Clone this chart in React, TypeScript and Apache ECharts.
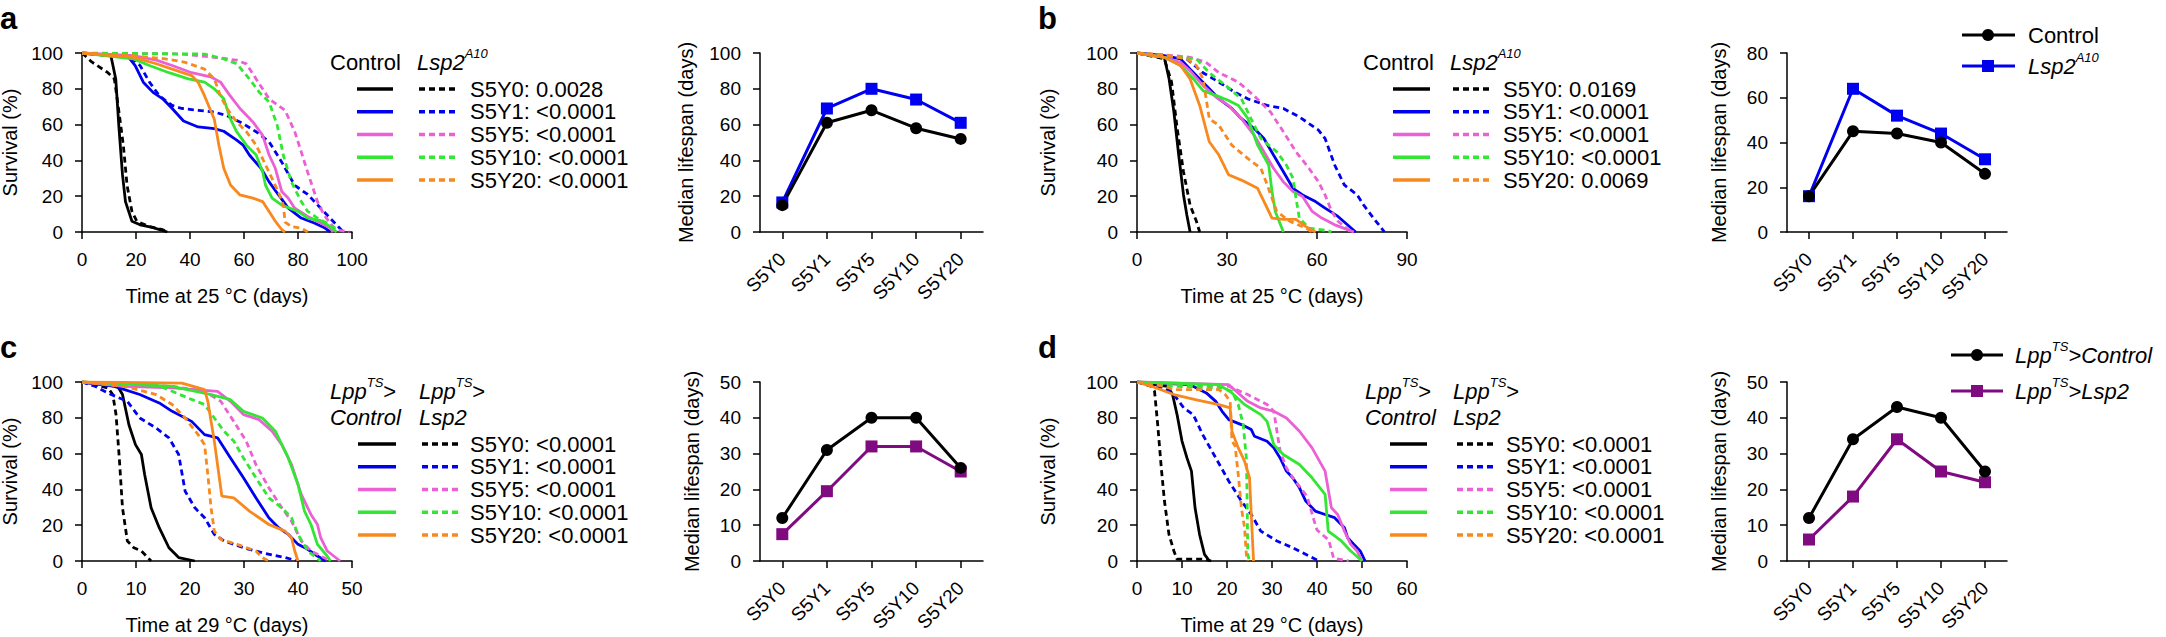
import React, { useEffect, useRef } from "react";
import * as echarts from "echarts";

// ---------- categories / tick labels ----------
const categories = ["S5Y0", "S5Y1", "S5Y5", "S5Y10", "S5Y20"];

// ---------- median lifespan ----------
const aMedCtrl = [15, 61, 68, 58, 52];
const aMedLsp = [16.5, 69, 80, 74, 61];
const bMedCtrl = [16, 45, 44, 40, 26];
const bMedLsp = [16, 64, 52, 44, 32.5];
const cMedCtrl = [12, 31, 40, 40, 26];
const cMedLsp = [7.5, 19.5, 32, 32, 25];
const dMedCtrl = [12, 34, 43, 40, 25];
const dMedLsp = [6, 18, 34, 25, 22];

// ---------- survival curves [day, %] ----------
// panel a
const aCtrlY0 = [[0,100],[10.7,98.5],[12.5,85.5],[13.7,58],[15,32],[16.1,17],[18.5,6],[21.5,4],[26,2.6],[31.6,0]];
const aLspY0 = [[0,100],[3.6,95],[9.6,89],[12,85.5],[13.7,67],[15.3,48.5],[16.7,26],[18.5,11.5],[20.3,6],[25,3],[29.9,1.3],[31.6,0]];
const aCtrlY1 = [[0,100],[17.3,97.6],[19.7,93],[22.7,83.7],[26.3,78],[29.9,74.4],[33.4,69],[37.6,62],[43,58.7],[49,57.8],[52.5,56.3],[57.3,51.3],[59.7,48.5],[62,43],[66.3,35.6],[69.3,28],[72.8,20.7],[76.4,13.3],[81.2,7.8],[86,5],[90,2.2],[92,0]];
const aLspY1 = [[0,100],[17.3,98.5],[21.5,93],[25,83.7],[28.7,76],[33.4,70.7],[37,69],[43,68],[49,67],[53.7,65],[59.7,60.5],[64.5,56],[69.3,50.4],[74,39],[78.8,26],[83.6,21],[88.4,13.3],[93,6],[96,1.3],[96.7,0]];
const aCtrlY5 = [[0,100],[19,98.5],[27.5,96],[33.4,93],[40.6,89],[48,86.5],[51.3,83.7],[54.9,76],[58.5,69],[63.3,61.5],[66.9,54],[69.3,43],[71.6,35.6],[74,22.6],[76.4,18.9],[78.8,13.3],[83.6,8.7],[88.4,5],[92,2.2],[93,0]];
const aLspY5 = [[0,100],[37,99.4],[49,97.6],[57.3,96],[60.9,93.9],[64.5,85.5],[69.3,74.4],[75.2,68],[78.8,56],[81.2,44.8],[83.6,33.3],[87.2,17],[89.6,9.6],[93,3],[95,1],[99,0]];
const aCtrlY10 = [[0,100],[19,96.7],[25,93],[32.2,89],[39.4,85.5],[45.4,83.7],[49,80],[52.5,74.4],[55,63],[57.3,56],[60.9,48.5],[64.5,43],[66.9,33.7],[68,26],[70.4,18.9],[74,15],[80,11.5],[83.6,7.8],[88.4,6.3],[92,3],[94.3,0]];
const aLspY10 = [[0,100],[45.4,99.4],[52.5,96.7],[57.3,94],[62,85.5],[65.7,78],[69.3,72.6],[72.3,59.6],[74.6,42.6],[77.6,27.8],[81.2,17],[83.6,11.5],[87.2,7.8],[93,3],[94.3,0]];
const aCtrlY20 = [[0,100],[19,97.6],[27.5,94],[33.4,91],[40.6,87.4],[43,83.7],[45.4,76],[49,63],[50.7,48.5],[52.5,35.6],[55,26.3],[58.5,20.7],[63.3,18.9],[66.9,17],[69.3,11.5],[71.6,6],[74,1.3],[75.2,0]];
const aLspY20 = [[0,100],[19,98.5],[31,96.7],[38.2,94.8],[45.4,91],[49,85.5],[51.3,76],[53.7,69],[57.3,61.5],[60.9,56],[64.5,48.5],[69.3,33.3],[72.8,22.2],[74.6,14.8],[75.2,5.5],[77.6,3],[81.2,2.2],[83.6,0]];
// panel b
const bCtrlY0 = [[0,100],[9.1,97.6],[10.7,85.5],[12.3,67],[13.9,43],[15.5,20.7],[16.6,9.6],[17.7,0]];
const bLspY0 = [[0,100],[9.1,96.7],[11.5,84],[13.4,57.8],[15.5,33.7],[17.7,15],[19.8,6],[20.9,0]];
const bCtrlY1 = [[0,100],[9.1,98.5],[14.5,96.7],[17.7,91],[20.9,85.5],[24.1,80],[27.3,74.4],[31.6,69],[34.8,63.3],[39.1,57.8],[42.3,52.2],[45.5,43],[48.8,33.7],[52,24.4],[55.2,20.7],[59.5,17],[62.7,13.3],[67,8.7],[72.9,0]];
const bLspY1 = [[0,100],[9.1,98.5],[16.6,96.7],[22,89],[27.3,83.7],[32.7,78],[36.9,74.4],[43.4,70.7],[48.8,69],[54.1,64.3],[60.5,56.9],[62.7,52.2],[65.9,37.4],[69.1,26.3],[73.4,20.7],[75.5,15.2],[78.8,7.8],[82.5,0]];
const bCtrlY5 = [[0,100],[9.1,97.6],[14.5,94.8],[17.7,90],[22,81.9],[26.3,75.4],[30.5,70.7],[34.8,63.3],[39.1,54],[42.3,44.8],[45.5,35.6],[48.8,28],[52,22.6],[55.2,19.8],[58.4,11.5],[61.6,7.8],[65.9,4],[70.2,1.3],[72.3,0]];
const bLspY5 = [[0,100],[9.1,99],[17.7,97.6],[23,94.8],[27.3,89],[33.8,83.7],[39.1,76],[44.5,67],[48.8,56],[53,44.8],[57.3,35.6],[60.5,28],[62.7,20.7],[64.9,11.5],[67,6],[71.3,0]];
const bCtrlY10 = [[0,100],[9.1,97.6],[14.5,93],[18.8,85.5],[22,79],[26.3,76.3],[30.5,73.5],[33.8,70.7],[37,63.3],[40.2,48.5],[43.9,37.4],[45,22.6],[46.1,11.5],[48.8,0]];
const bLspY10 = [[0,100],[9.1,98.5],[19.8,96.7],[24.1,89],[29.5,81.9],[34.8,74.4],[38,63.3],[41.3,52.2],[46.6,44.8],[49.8,37.4],[52,30],[53,18.9],[54.1,7.8],[57.3,2.2],[63.7,0.7],[64.8,0]];
const bCtrlY20 = [[0,100],[9.1,97.6],[14.5,93],[17.7,85.5],[20.9,70.7],[24.1,50.4],[27.3,43],[30.5,32],[34.8,29],[40.2,24.4],[45,7.8],[48.8,7],[53,7],[56.3,3],[59.5,0]];
const bLspY20 = [[0,100],[9.1,99],[16.6,96.7],[19.8,93],[22,85.5],[24.1,63.3],[27.3,59.6],[31.6,48.5],[37,41],[41.3,35.6],[43.4,26.3],[46.6,11.5],[50.9,6],[56.3,2.2],[58.4,0]];
// panel c
const cCtrlY0 = [[0,100],[6.6,97.6],[7.5,93],[8.7,76],[9.9,65],[11,59.5],[11.6,48.3],[12.8,29.7],[14.3,18.6],[16.1,7.4],[17.9,1.9],[20.9,0]];
const cLspY0 = [[0,100],[4.8,96.7],[5.7,93],[6.3,81.8],[6.9,57.8],[7.5,29.7],[8.4,11.2],[9.6,7.4],[11,5.6],[12.8,0]];
const cCtrlY1 = [[0,100],[6,97.6],[10.7,93],[14.3,88.3],[16.7,83.6],[20.3,78],[22.7,70.6],[25.1,68.8],[27.5,57.6],[29.9,46.5],[32.2,35.3],[34.6,24.2],[36.4,18.6],[38.2,14.9],[40,9.3],[41.8,6.5],[43.6,2.8],[45.1,0]];
const cLspY1 = [[0,100],[2.4,97.6],[5.4,93],[8.4,89.2],[10.7,79.9],[13.7,74.3],[16.1,68.8],[17.9,59.5],[19.1,39],[20.9,29.7],[22.7,24.2],[24.5,14.9],[26.3,11.2],[29.9,7.4],[33.4,4.6],[37.6,1.9],[40,0]];
const cCtrlY5 = [[0,100],[7.8,97.6],[16.7,96.7],[25.1,94.8],[27.5,89.2],[29.9,81.8],[32.8,79],[35.2,72.5],[37,65],[38.8,53.9],[40.6,37.2],[42.4,26],[43.6,20.4],[44.2,13],[45.4,5.6],[46.6,2.8],[47.8,0]];
const cLspY5 = [[0,100],[16.7,97.6],[22.7,94.8],[25.7,89.2],[28.1,78],[30.4,67],[32.2,53.9],[34.6,40.9],[37,29.7],[38.8,22.3],[40.6,11.2],[42.4,5.6],[44.2,2.8],[46,0]];
const cCtrlY10 = [[0,100],[16.7,97.6],[23.9,93],[27.5,90.1],[29.9,83.6],[33.4,79.9],[35.8,72.5],[38.2,57.6],[40,42.7],[41.2,27.9],[42.4,20.4],[43.6,9.3],[45.4,2.8],[46,0]];
const cLspY10 = [[0,100],[13.7,98.5],[16.7,94.8],[19.7,91],[22.7,87.4],[24.5,79.9],[26.3,72.5],[28.1,67],[29.9,57.6],[32.2,46.5],[34.6,35.3],[37,29.7],[38.8,24.2],[40,14.9],[41.8,5.6],[44.2,0]];
const cCtrlY20 = [[0,100],[18.5,99.4],[22.7,95.7],[23.3,89.2],[24.5,67],[25.9,36.2],[28.1,35.3],[31,27.9],[34.6,20.4],[37.6,16.7],[38.8,13],[39.4,5.6],[40,0]];
const cLspY20 = [[0,100],[7.8,97.6],[13.7,93],[16.7,87.4],[19.1,79.9],[21.5,70.6],[22.7,65],[23.3,48.3],[23.9,29.7],[24.5,16.7],[25.7,12.1],[28.7,9.3],[32.2,5.6],[33.4,1.9],[34.6,0]];
// panel d
const dCtrlY0 = [[0,100],[6.8,97.6],[7.9,93],[8.9,81.8],[10,67],[11.1,57.6],[12.1,50.2],[12.9,29.7],[13.9,14.9],[15,3.7],[16.1,0]];
const dLspY0 = [[0,100],[3.2,97.6],[3.9,94.8],[4.6,76.2],[5.4,52],[6.1,33.5],[7.1,14.9],[8.2,5.6],[8.9,1],[15,1],[16.5,0]];
const dCtrlY1 = [[0,100],[11.8,98.5],[15.4,93.9],[17.5,89.2],[18.9,83.6],[20.4,79],[23.2,76.2],[25.4,73.4],[26.1,69.7],[28.9,66.9],[30.4,63.2],[31.8,57.6],[33.2,50.2],[34.6,46.5],[36.1,40.9],[37.5,33.5],[39.6,27.9],[41.8,26],[43.9,24.2],[46.1,18.6],[46.8,13],[48.2,9.3],[49.6,5.6],[50.7,0]];
const dLspY1 = [[0,100],[6.1,96.7],[8.2,93],[10.4,85.5],[12.5,81.8],[14.6,70.6],[17.5,57.6],[20.4,44.6],[23.2,33.5],[25.4,26],[27.5,16.7],[31.1,11.2],[34.6,7.4],[38.2,2.8],[40.4,0]];
const dCtrlY5 = [[0,100],[20.4,98.5],[24.6,89.2],[27.5,85.5],[30.4,83.6],[33.2,79.9],[36.1,72.5],[38.9,63.2],[41.8,50.2],[43.2,29.7],[44.6,26],[46.1,16.7],[47.5,9.3],[48.9,5.6],[50,0]];
const dLspY5 = [[0,100],[20.4,97.6],[24.6,93],[28.9,87.4],[30.4,83.6],[31.1,72.5],[31.8,61.3],[33.2,52],[34.8,46],[37.8,36],[39.3,23],[40,17.3],[42.6,11.7],[43.7,1.5],[47,0]];
const dCtrlY10 = [[0,100],[18.2,98.5],[21.1,93.9],[23.9,87.4],[27.5,81.8],[28.9,78],[30.4,65],[32.5,59.5],[36.1,53.9],[38.9,46.5],[41.8,37.2],[42.5,16.7],[45.4,11.2],[47.5,5.6],[50,0]];
const dLspY10 = [[0,100],[8.2,97.6],[18.9,96.7],[21.1,94.8],[22.5,87.4],[23.6,76.2],[24.3,57.6],[24.5,29.7],[24.6,3.7],[25,0]];
const dCtrlY20 = [[0,100],[3.2,97.6],[8.2,93],[13.2,90],[18.2,87.4],[20.7,85.5],[21.1,72.5],[22.5,63.2],[23.9,55.8],[25,46.5],[25.5,20.4],[25.9,0]];
const dLspY20 = [[0,100],[6.1,97.6],[8.2,95.7],[18.2,95.7],[19.6,93],[20.7,89.2],[21.1,67],[21.8,64.3],[22.5,48.3],[23.2,29.7],[23.9,18.6],[24.3,3.7],[24.6,0]];

// ---------- legend p-values ----------
const pA = ["S5Y0: 0.0028", "S5Y1: <0.0001", "S5Y5: <0.0001", "S5Y10: <0.0001", "S5Y20: <0.0001"];
const pB = ["S5Y0: 0.0169", "S5Y1: <0.0001", "S5Y5: <0.0001", "S5Y10: <0.0001", "S5Y20: 0.0069"];
const pC = ["S5Y0: <0.0001", "S5Y1: <0.0001", "S5Y5: <0.0001", "S5Y10: <0.0001", "S5Y20: <0.0001"];
const pD = ["S5Y0: <0.0001", "S5Y1: <0.0001", "S5Y5: <0.0001", "S5Y10: <0.0001", "S5Y20: <0.0001"];

// ---------- styles ----------
const FONT = '"Liberation Sans", Arial, Helvetica, sans-serif';
const groupColors = ["#000000", "#0000f0", "#eb60d5", "#33e633", "#f7891f"];
const BLUE = "#0000f0";
const PURPLE = "#800a80";
const DASH = [6, 4];
const LEG_FS = 22;

const rich = {
  i: { fontStyle: "italic", fontSize: LEG_FS, fontFamily: FONT, lineHeight: 30, verticalAlign: "middle" },
  n: { fontSize: LEG_FS, fontFamily: FONT, lineHeight: 30, verticalAlign: "middle" },
  s: { fontStyle: "italic", fontSize: 13, fontFamily: FONT, lineHeight: 13, verticalAlign: "top" },
};

type Panel = {
  letter: string; lx: number; ly: number;
  sx: number; sy: number; sw: number;
  mx: number; mw: number;
  xMax: number; xInt: number; temp: string;
  medMax: number; medInt: number;
  ctrl: number[][][]; lsp: number[][][];
  medCtrl: number[]; medLsp: number[]; medColor: string;
  pv: string[]; survGap: number; medGap: number;
  leg: any; medLeg: any;
};

const SH = 179;

const panels: Panel[] = [
  {
    letter: "a", lx: 0, ly: 18, sx: 82, sy: 53, sw: 270, mx: 760, mw: 223,
    xMax: 100, xInt: 20, temp: "25", medMax: 100, medInt: 20,
    ctrl: [aCtrlY0, aCtrlY1, aCtrlY5, aCtrlY10, aCtrlY20],
    lsp: [aLspY0, aLspY1, aLspY5, aLspY10, aLspY20],
    medCtrl: aMedCtrl, medLsp: aMedLsp, medColor: BLUE, pv: pA, survGap: 62, medGap: 64,
    leg: { kind: "lsp", h1: 330, h2: 417, hy: 62, s: [357, 393], d: [419, 457], tx: 470, r0: 89 },
    medLeg: null,
  },
  {
    letter: "b", lx: 1038, ly: 18, sx: 1137, sy: 53, sw: 270, mx: 1787, mw: 220,
    xMax: 90, xInt: 30, temp: "25", medMax: 80, medInt: 20,
    ctrl: [bCtrlY0, bCtrlY1, bCtrlY5, bCtrlY10, bCtrlY20],
    lsp: [bLspY0, bLspY1, bLspY5, bLspY10, bLspY20],
    medCtrl: bMedCtrl, medLsp: bMedLsp, medColor: BLUE, pv: pB, survGap: 79, medGap: 58,
    leg: { kind: "lsp", h1: 1363, h2: 1450, hy: 62, s: [1393, 1430], d: [1453, 1490], tx: 1503, r0: 89 },
    medLeg: { x1: 1962, x2: 2015, mx: 1988, y: [35, 66], tx: 2028, t1: "{n|Control}", t2: "{i|Lsp2}{s|A10}" },
  },
  {
    letter: "c", lx: 0, ly: 347, sx: 82, sy: 382, sw: 270, mx: 760, mw: 223,
    xMax: 50, xInt: 10, temp: "29", medMax: 50, medInt: 10,
    ctrl: [cCtrlY0, cCtrlY1, cCtrlY5, cCtrlY10, cCtrlY20],
    lsp: [cLspY0, cLspY1, cLspY5, cLspY10, cLspY20],
    medCtrl: cMedCtrl, medLsp: cMedLsp, medColor: PURPLE, pv: pC, survGap: 62, medGap: 58,
    leg: { kind: "lpp", h1: 330, h2: 419, hy: 391, hy2: 417, s: [358, 396], d: [422, 460], tx: 470, r0: 444 },
    medLeg: null,
  },
  {
    letter: "d", lx: 1038, ly: 347, sx: 1137, sy: 382, sw: 270, mx: 1787, mw: 220,
    xMax: 60, xInt: 10, temp: "29", medMax: 50, medInt: 10,
    ctrl: [dCtrlY0, dCtrlY1, dCtrlY5, dCtrlY10, dCtrlY20],
    lsp: [dLspY0, dLspY1, dLspY5, dLspY10, dLspY20],
    medCtrl: dMedCtrl, medLsp: dMedLsp, medColor: PURPLE, pv: pD, survGap: 79, medGap: 58,
    leg: { kind: "lpp", h1: 1365, h2: 1453, hy: 391, hy2: 417, s: [1390, 1427], d: [1457, 1494], tx: 1506, r0: 444 },
    medLeg: { x1: 1951, x2: 2003, mx: 1977, y: [355, 391], tx: 2015, t1: "{i|Lpp}{s|TS}{i|>Control}", t2: "{i|Lpp}{s|TS}{i|>Lsp2}" },
  },
];

const axisCommon = () => ({
  axisLine: { show: true, onZero: false, lineStyle: { color: "#000", width: 1.5 } },
  axisTick: { show: true, inside: false, length: 7, lineStyle: { color: "#000", width: 1.5 } },
  splitLine: { show: false },
  nameTextStyle: { color: "#000", fontSize: 20, fontFamily: FONT },
});

function text(x: number, y: number, t: string, extra: any = {}) {
  return {
    type: "text", x, y, silent: true,
    style: {
      text: t, fill: "#000", fontSize: LEG_FS, fontFamily: FONT,
      align: "left", verticalAlign: "middle", rich, ...extra,
    },
  };
}
function seg(x1: number, x2: number, y: number, color: string, dashed: boolean, w = 3.5) {
  return {
    type: "line", silent: true,
    shape: { x1, y1: y, x2, y2: y },
    style: { stroke: color, lineWidth: w, lineDash: dashed ? DASH : null },
  };
}

function buildOption() {
  const grid: any[] = [];
  const xAxis: any[] = [];
  const yAxis: any[] = [];
  const series: any[] = [];
  const elements: any[] = [];
  const ROW = 22.75;

  panels.forEach((p, pi) => {
    const gs = pi * 2;
    const gm = pi * 2 + 1;
    grid.push({ left: p.sx, top: p.sy, width: p.sw, height: SH, containLabel: false, outerBoundsMode: "none" });
    grid.push({ left: p.mx, top: p.sy, width: p.mw, height: SH, containLabel: false, outerBoundsMode: "none" });

    xAxis.push({
      ...axisCommon(), gridIndex: gs, type: "value", min: 0, max: p.xMax, interval: p.xInt,
      name: `Time at ${p.temp} °C (days)`, nameLocation: "middle", nameGap: 54,
      axisLabel: { color: "#000", fontSize: 19, fontFamily: FONT, margin: 18 },
    });
    yAxis.push({
      ...axisCommon(), gridIndex: gs, type: "value", min: 0, max: 100, interval: 20,
      name: "Survival (%)", nameLocation: "middle", nameRotate: 90, nameGap: p.survGap,
      axisLabel: { color: "#000", fontSize: 19, fontFamily: FONT, margin: 19 },
    });
    xAxis.push({
      ...axisCommon(), gridIndex: gm, type: "category", data: categories, boundaryGap: true,
      axisTick: { show: true, alignWithLabel: true, length: 7, lineStyle: { color: "#000", width: 1.5 } },
      axisLabel: { color: "#000", fontSize: 19, fontFamily: FONT, rotate: 45, margin: 24, interval: 0 },
    });
    yAxis.push({
      ...axisCommon(), gridIndex: gm, type: "value", min: 0, max: p.medMax, interval: p.medInt,
      name: "Median lifespan (days)", nameLocation: "middle", nameRotate: 90, nameGap: p.medGap,
      axisLabel: { color: "#000", fontSize: 19, fontFamily: FONT, margin: 19 },
    });

    // survival curves
    for (let g = 0; g < 5; g++) {
      series.push({
        type: "line", name: `${p.letter}-ctrl-${categories[g]}`, xAxisIndex: gs, yAxisIndex: gs,
        data: p.ctrl[g], showSymbol: false, symbol: "none", silent: true,
        lineStyle: { color: groupColors[g], width: 2.8, type: "solid" },
        itemStyle: { color: groupColors[g] }, z: 3,
      });
      series.push({
        type: "line", name: `${p.letter}-lsp-${categories[g]}`, xAxisIndex: gs, yAxisIndex: gs,
        data: p.lsp[g], showSymbol: false, symbol: "none", silent: true,
        lineStyle: { color: groupColors[g], width: 2.8, type: DASH },
        itemStyle: { color: groupColors[g] }, z: 3,
      });
    }

    // median lifespan
    series.push({
      type: "line", name: `${p.letter}-med-lsp`, xAxisIndex: gm, yAxisIndex: gm,
      data: p.medLsp, symbol: "rect", symbolSize: 12, showSymbol: true, silent: true,
      lineStyle: { color: p.medColor, width: 3 }, itemStyle: { color: p.medColor },
    });
    series.push({
      type: "line", name: `${p.letter}-med-ctrl`, xAxisIndex: gm, yAxisIndex: gm,
      data: p.medCtrl, symbol: "circle", symbolSize: 12, showSymbol: true, silent: true,
      lineStyle: { color: "#000", width: 3 }, itemStyle: { color: "#000" },
    });

    // panel letter
    elements.push({
      type: "text", x: p.lx, y: p.ly, silent: true,
      style: {
        text: p.letter, fill: "#000", fontSize: 31, fontWeight: "bold",
        fontFamily: FONT, align: "left", verticalAlign: "middle",
      },
    });

    // survival legend
    const L = p.leg;
    if (L.kind === "lsp") {
      elements.push(text(L.h1, L.hy, "Control"));
      elements.push(text(L.h2, L.hy, "{i|Lsp2}{s|A10}"));
    } else {
      elements.push(text(L.h1, L.hy, "{i|Lpp}{s|TS}{n|>}"));
      elements.push(text(L.h1, L.hy2, "Control", { fontStyle: "italic" }));
      elements.push(text(L.h2, L.hy, "{i|Lpp}{s|TS}{n|>}"));
      elements.push(text(L.h2, L.hy2, "Lsp2", { fontStyle: "italic" }));
    }
    for (let g = 0; g < 5; g++) {
      const y = L.r0 + g * ROW;
      elements.push(seg(L.s[0], L.s[1], y, groupColors[g], false));
      elements.push(seg(L.d[0], L.d[1], y, groupColors[g], true));
      elements.push(text(L.tx, y, p.pv[g]));
    }

    // median legend
    const M = p.medLeg;
    if (M) {
      elements.push(seg(M.x1, M.x2, M.y[0], "#000", false, 3));
      elements.push({ type: "circle", silent: true, shape: { cx: M.mx, cy: M.y[0], r: 6 }, style: { fill: "#000" } });
      elements.push(text(M.tx, M.y[0], M.t1));
      elements.push(seg(M.x1, M.x2, M.y[1], p.medColor, false, 3));
      elements.push({ type: "rect", silent: true, shape: { x: M.mx - 6, y: M.y[1] - 6, width: 12, height: 12 }, style: { fill: p.medColor } });
      elements.push(text(M.tx, M.y[1], M.t2));
    }
  });

  return {
    animation: false,
    backgroundColor: "#ffffff",
    textStyle: { fontFamily: FONT },
    grid, xAxis, yAxis, series,
    graphic: { elements },
  };
}

export default function App() {
  const ref = useRef<HTMLDivElement>(null);
  useEffect(() => {
    if (!ref.current) return;
    const chart = echarts.init(ref.current, null, { renderer: "svg" });
    chart.setOption(buildOption() as any);
    return () => chart.dispose();
  }, []);
  return (
    <div
      ref={ref}
      style={{ position: "fixed", left: 0, top: 0, width: 2166, height: 637, background: "#fff" }}
    />
  );
}
